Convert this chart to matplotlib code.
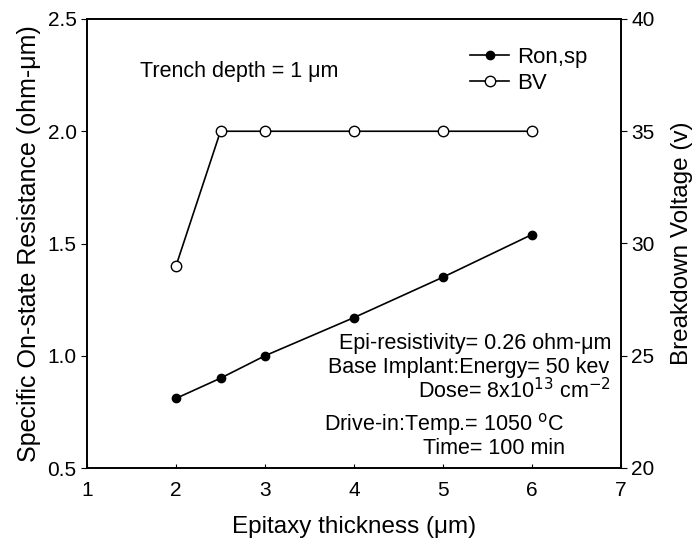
import matplotlib
matplotlib.use("Agg")
import matplotlib.pyplot as plt

plt.rcParams['font.family'] = ['Liberation Sans', 'DejaVu Sans']

# data
thickness = [2, 2.5, 3, 4, 5, 6]
ron_sp = [0.81, 0.90, 1.00, 1.17, 1.35, 1.54]
bv = [29, 35, 35, 35, 35, 35]

x_ticks = [1, 2, 3, 4, 5, 6, 7]
left_ticks = [0.5, 1.0, 1.5, 2.0, 2.5]
right_ticks = [20, 25, 30, 35, 40]

fig = plt.figure(figsize=(6.94, 5.38), dpi=100)
ax = fig.add_axes([87/694, 70/538, 534/694, 449/538])
ax2 = ax.twinx()

l1, = ax.plot(thickness, ron_sp, color='black', lw=1.2, marker='o',
              ms=6, mfc='black', mec='black', label='Ron,sp')
l2, = ax2.plot(thickness, bv, color='black', lw=1.2, marker='o',
               ms=7.5, mfc='white', mec='black', mew=1.0, label='BV')

ax.set_xlim(1, 7)
ax.set_ylim(0.5, 2.5)
ax2.set_ylim(20, 40)
ax.set_xticks(x_ticks)
ax.set_yticks(left_ticks)
ax.set_yticklabels([f"{v:.1f}" for v in left_ticks])
ax2.set_yticks(right_ticks)

ax.tick_params(axis='x', direction='in', length=3, labelsize=15, pad=9)
ax.tick_params(axis='y', direction='out', length=4, labelsize=15)
ax2.tick_params(axis='y', direction='out', length=4, labelsize=15)

for a in (ax, ax2):
    for s in a.spines.values():
        s.set_linewidth(1.2)

ax.set_xlabel('Epitaxy thickness (μm)', fontsize=17.5, labelpad=12)
ax.set_ylabel('Specific On-state Resistance (ohm-μm)', fontsize=18, labelpad=5)
ax2.set_ylabel('Breakdown Voltage (v)', fontsize=17.5, labelpad=12)

ax.legend(handles=[l1, l2], loc='upper left', bbox_to_anchor=(0.718, 0.938),
          frameon=False, fontsize=16, handlelength=1.75, handletextpad=0.35,
          labelspacing=0.22, borderpad=0, borderaxespad=0)

def put(x, y, s, ha, size=15.5):
    fig.text(x/694, 1 - y/538, s, fontsize=size, ha=ha, va='center')

put(140, 71, 'Trench depth = 1 μm', 'left', size=15.5)
put(611, 343, 'Epi-resistivity= 0.26 ohm-μm', 'right')
put(609, 367, 'Base Implant:Energy= 50 kev', 'right')
put(611, 391, r'Dose= 8x10$^{13}$ cm$^{-2}$', 'right')
put(564, 424, r'Drive-in:Temp.= 1050 $^{\rm o}$C', 'right')
put(565, 448, 'Time= 100 min', 'right')

fig.savefig('out.png', dpi=100)
